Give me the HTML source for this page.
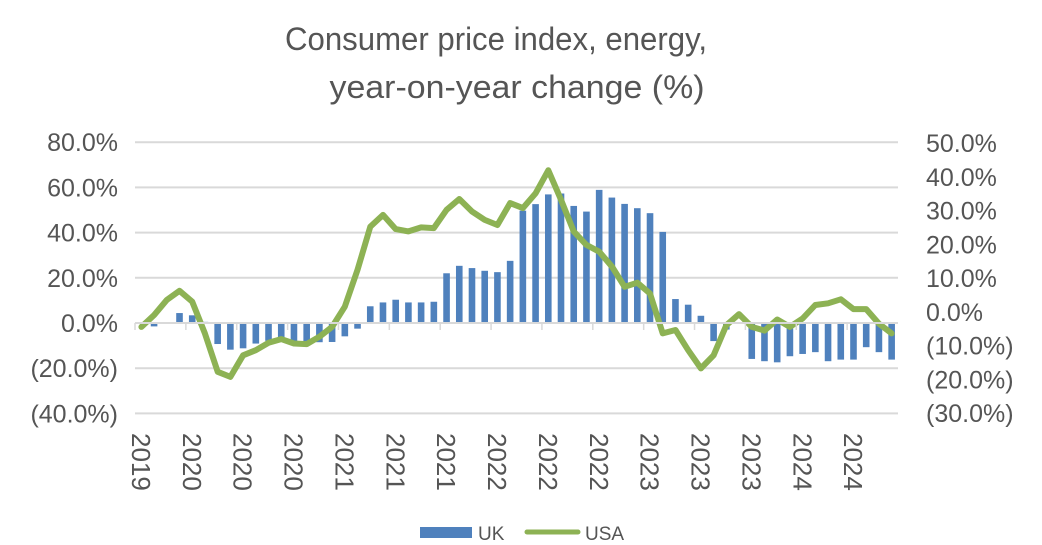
<!DOCTYPE html>
<html><head><meta charset="utf-8"><style>
html,body{margin:0;padding:0;background:#fff;}
svg{display:block;font-family:"Liberation Sans",sans-serif;}
</style></head><body>
<svg id="chart" width="1042" height="545" viewBox="0 0 1042 545">
<text x="496" y="50" text-anchor="middle" font-size="32" fill="#555" textLength="422" lengthAdjust="spacingAndGlyphs">Consumer price index, energy,</text>
<text x="517" y="98" text-anchor="middle" font-size="32" fill="#555" textLength="375" lengthAdjust="spacingAndGlyphs">year-on-year change (%)</text>
<g id="grid"></g><g id="bars"></g><g id="line"></g><g id="axes"></g>
<g>
<rect x="420" y="527" width="52" height="11" fill="#4f81bd"/>
<text x="478" y="540" font-size="19" fill="#555">UK</text>
<line x1="527" y1="532" x2="578" y2="532" stroke="#8db254" stroke-width="5" stroke-linecap="round"/>
<text x="585" y="540" font-size="19" fill="#555">USA</text>
</g>
</svg>
<script>
const xLabels=["2019","2020","2020","2020","2021","2021","2021","2022","2022","2022","2023","2023","2023","2024","2024"];
const ukValues=[0,-1.5,0,4.4,3.4,0.5,-9.3,-11.8,-11.2,-9.1,-7.9,-6.2,-8.1,-8.1,-8.5,-8.4,-5.9,-2.5,7.4,9.1,10.3,9.1,9.1,9.4,22,25.3,24.3,23.1,22.5,27.5,49.7,52.6,56.9,57.3,51.8,49.3,58.9,55.5,52.7,50.8,48.6,40.3,10.6,8.1,3.2,-8,-2.9,0,-15.9,-16.9,-17.4,-14.7,-13.7,-12.9,-16.9,-16.2,-16.2,-10.7,-12.9,-16.2];
const usaValues=[-4.5,-1,3.5,6.2,3,-6.4,-17.8,-19.3,-12.9,-11.4,-9.2,-8.1,-9.4,-9.6,-7.4,-4.5,1.5,12.4,25.2,28.7,24.5,23.8,25,24.8,30.2,33.4,29.7,27.2,25.7,32.2,30.7,35.1,41.9,33.2,23.8,19.8,17.8,13.4,7.4,8.6,5.4,-6.4,-5.4,-11.4,-16.8,-12.9,-4,-0.7,-4.5,-5.6,-2.3,-4.5,-2,2,2.5,3.7,0.8,0.8,-3.5,-6.4];
const leftTicks=[80,60,40,20,0,-20,-40];
const rightTicks=[50,40,30,20,10,0,-10,-20,-30];
const NS="http://www.w3.org/2000/svg";
const x0=135,x1=898,n=ukValues.length,cw=(x1-x0)/n;
const yL=v=>323-v*45.2/20;
const yR=v=>311.75-v*3.375;
const xc=i=>x0+cw*(i+0.5);
function mk(tag,attrs,parent){const e=document.createElementNS(NS,tag);for(const k in attrs)e.setAttribute(k,attrs[k]);document.getElementById(parent).appendChild(e);return e;}
const fmt=v=>v<0?"("+Math.abs(v).toFixed(1)+"%)":v.toFixed(1)+"%";
leftTicks.forEach(t=>{
  const y=yL(t);
  if(t!==0){const g=mk("line",{x1:x0,x2:x1,y1:y,y2:y,stroke:"#d9d9d9","stroke-width":2},"grid");
  
  }
  const tx=mk("text",{x:118,y:y+9,"text-anchor":"end","font-size":25,fill:"#555"},"axes");
  tx.textContent=fmt(t);
  
  
});
rightTicks.forEach(t=>{
  const tx=mk("text",{x:926,y:yR(t)+9,"font-size":25,fill:"#555"},"axes");
  tx.textContent=fmt(t);
  
  
});
ukValues.forEach((v,i)=>{
  const y0=yL(0),y=yL(v);
  const r=mk("rect",{x:xc(i)-3.3,width:6.6,y:Math.min(y,y0),height:Math.abs(y-y0),fill:"#4f81bd"},"bars");
  
  
});
const ax=mk("line",{x1:x0,x2:x1,y1:yL(0),y2:yL(0),stroke:"#d9d9d9","stroke-width":2},"axes");


xLabels.forEach((l,k)=>{
  const tx0=x0+cw*4*k;
  const tk=mk("line",{x1:tx0,x2:tx0,y1:yL(0),y2:yL(0)+7,stroke:"#d9d9d9","stroke-width":1.5},"axes");
  
  
  const cx=tx0+6;
  const tx=mk("text",{x:0,y:0,"font-size":26,fill:"#555",transform:"translate("+(cx-9)+",433) rotate(90)"},"axes");
  tx.textContent=l;
  
  
});
const pts=usaValues.map((v,i)=>xc(i).toFixed(1)+","+yR(v).toFixed(1)).join(" ");
const pl=mk("polyline",{points:pts,fill:"none",stroke:"#8db254","stroke-width":6,"stroke-linejoin":"round","stroke-linecap":"round"},"line");


</script>
</body></html>
